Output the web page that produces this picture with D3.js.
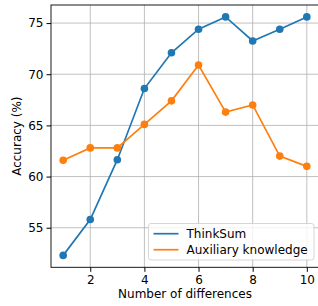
<!DOCTYPE html>
<html>
<head>
<meta charset="utf-8">
<script src="https://cdn.jsdelivr.net/npm/d3@7"></script>
<style>
  body { margin: 0; background: #fff; }
  svg { display: block; font-family: "DejaVu Sans", sans-serif; }
</style>
</head>
<body>
<svg id="chart" width="318" height="306"></svg>
<script>
const diffs = [1, 2, 3, 4, 5, 6, 7, 8, 9, 10];
const thinkSum = [52.3, 55.8, 61.65, 68.6, 72.1, 74.4, 75.6, 73.25, 74.4, 75.6];
const auxKnowledge = [61.6, 62.8, 62.8, 65.1, 67.4, 70.9, 66.3, 67.0, 62.0, 61.0];
const xTicks = [2, 4, 6, 8, 10];
const yTicks = [55, 60, 65, 70, 75];

const series = [
  {name: 'ThinkSum', values: thinkSum, color: '#1f77b4'},
  {name: 'Auxiliary knowledge', values: auxKnowledge, color: '#ff7f0e'}
];

const margin = {top: 5, left: 51, right: 319, bottom: 267.3};
const fs = '12px';
const svg = d3.select('#chart');

// matplotlib style 5% padding
const xScale = d3.scaleLinear().domain([0.55, 10.45]).range([margin.left, margin.right]);
const yScale = d3.scaleLinear().domain([51.135, 76.765]).range([margin.bottom, margin.top]);

// grid
const grid = svg.append('g').attr('class', 'grid');
grid.selectAll('.gx').data(xTicks).enter().append('line')
  .attr('x1', d => xScale(d)).attr('x2', d => xScale(d))
  .attr('y1', margin.top).attr('y2', margin.bottom)
  .attr('stroke', '#b0b0b0').attr('stroke-width', 0.8);
grid.selectAll('.gy').data(yTicks).enter().append('line')
  .attr('y1', d => yScale(d)).attr('y2', d => yScale(d))
  .attr('x1', margin.left).attr('x2', margin.right)
  .attr('stroke', '#b0b0b0').attr('stroke-width', 0.8);

// axes
const xAxis = d3.axisBottom(xScale).tickValues(xTicks).tickSize(4.5).tickPadding(3.5).tickFormat(d3.format('d'));
svg.append('g')
  .attr('transform', `translate(0,${margin.bottom})`)
  .call(xAxis)
  .call(g => g.select('.domain').remove())
  .call(g => g.selectAll('text').attr('font-size', fs).attr('fill', '#000').attr('font-family', 'DejaVu Sans'));

const yAxis = d3.axisLeft(yScale).tickValues(yTicks).tickSize(4.5).tickPadding(3).tickFormat(d3.format('d'));
svg.append('g')
  .attr('transform', `translate(${margin.left},0)`)
  .call(yAxis)
  .call(g => g.select('.domain').remove())
  .call(g => g.selectAll('text').attr('font-size', fs).attr('fill', '#000').attr('font-family', 'DejaVu Sans'));

// lines + markers
const line = d3.line()
  .x((d, i) => xScale(diffs[i]))
  .y(d => yScale(d));

series.forEach(s => {
  svg.append('path')
    .datum(s.values)
    .attr('fill', 'none')
    .attr('stroke', s.color)
    .attr('stroke-width', 1.7)
    .attr('d', line);
  svg.selectAll(null).data(s.values).enter().append('circle')
    .attr('cx', (d, i) => xScale(diffs[i]))
    .attr('cy', d => yScale(d))
    .attr('r', 3.8)
    .attr('fill', s.color);
});

// spines
svg.append('rect')
  .attr('x', margin.left).attr('y', margin.top)
  .attr('width', margin.right - margin.left)
  .attr('height', margin.bottom - margin.top)
  .attr('fill', 'none').attr('stroke', '#000').attr('stroke-width', 0.9);

// axis labels
svg.append('text')
  .attr('x', (margin.left + margin.right) / 2)
  .attr('y', 298)
  .attr('text-anchor', 'middle')
  .attr('font-size', fs)
  .text('Number of differences');

svg.append('text')
  .attr('transform', `translate(20.5,${(margin.top + margin.bottom) / 2}) rotate(-90)`)
  .attr('text-anchor', 'middle')
  .attr('font-size', fs)
  .text('Accuracy (%)');

// legend
const legend = svg.append('g').attr('transform', 'translate(148.5,223.5)');
legend.append('rect')
  .attr('width', 165.5).attr('height', 36.5)
  .attr('rx', 2.5)
  .attr('fill', 'rgba(255,255,255,0.8)')
  .attr('stroke', '#cccccc').attr('stroke-width', 0.8);
series.forEach((s, i) => {
  const y = 10.2 + i * 16;
  legend.append('line')
    .attr('x1', 5).attr('x2', 30)
    .attr('y1', y).attr('y2', y)
    .attr('stroke', s.color).attr('stroke-width', 1.7);
  legend.append('text')
    .attr('x', 38).attr('y', y)
    .attr('dy', '0.36em')
    .attr('font-size', fs)
    .text(s.name);
});
</script>
</body>
</html>
